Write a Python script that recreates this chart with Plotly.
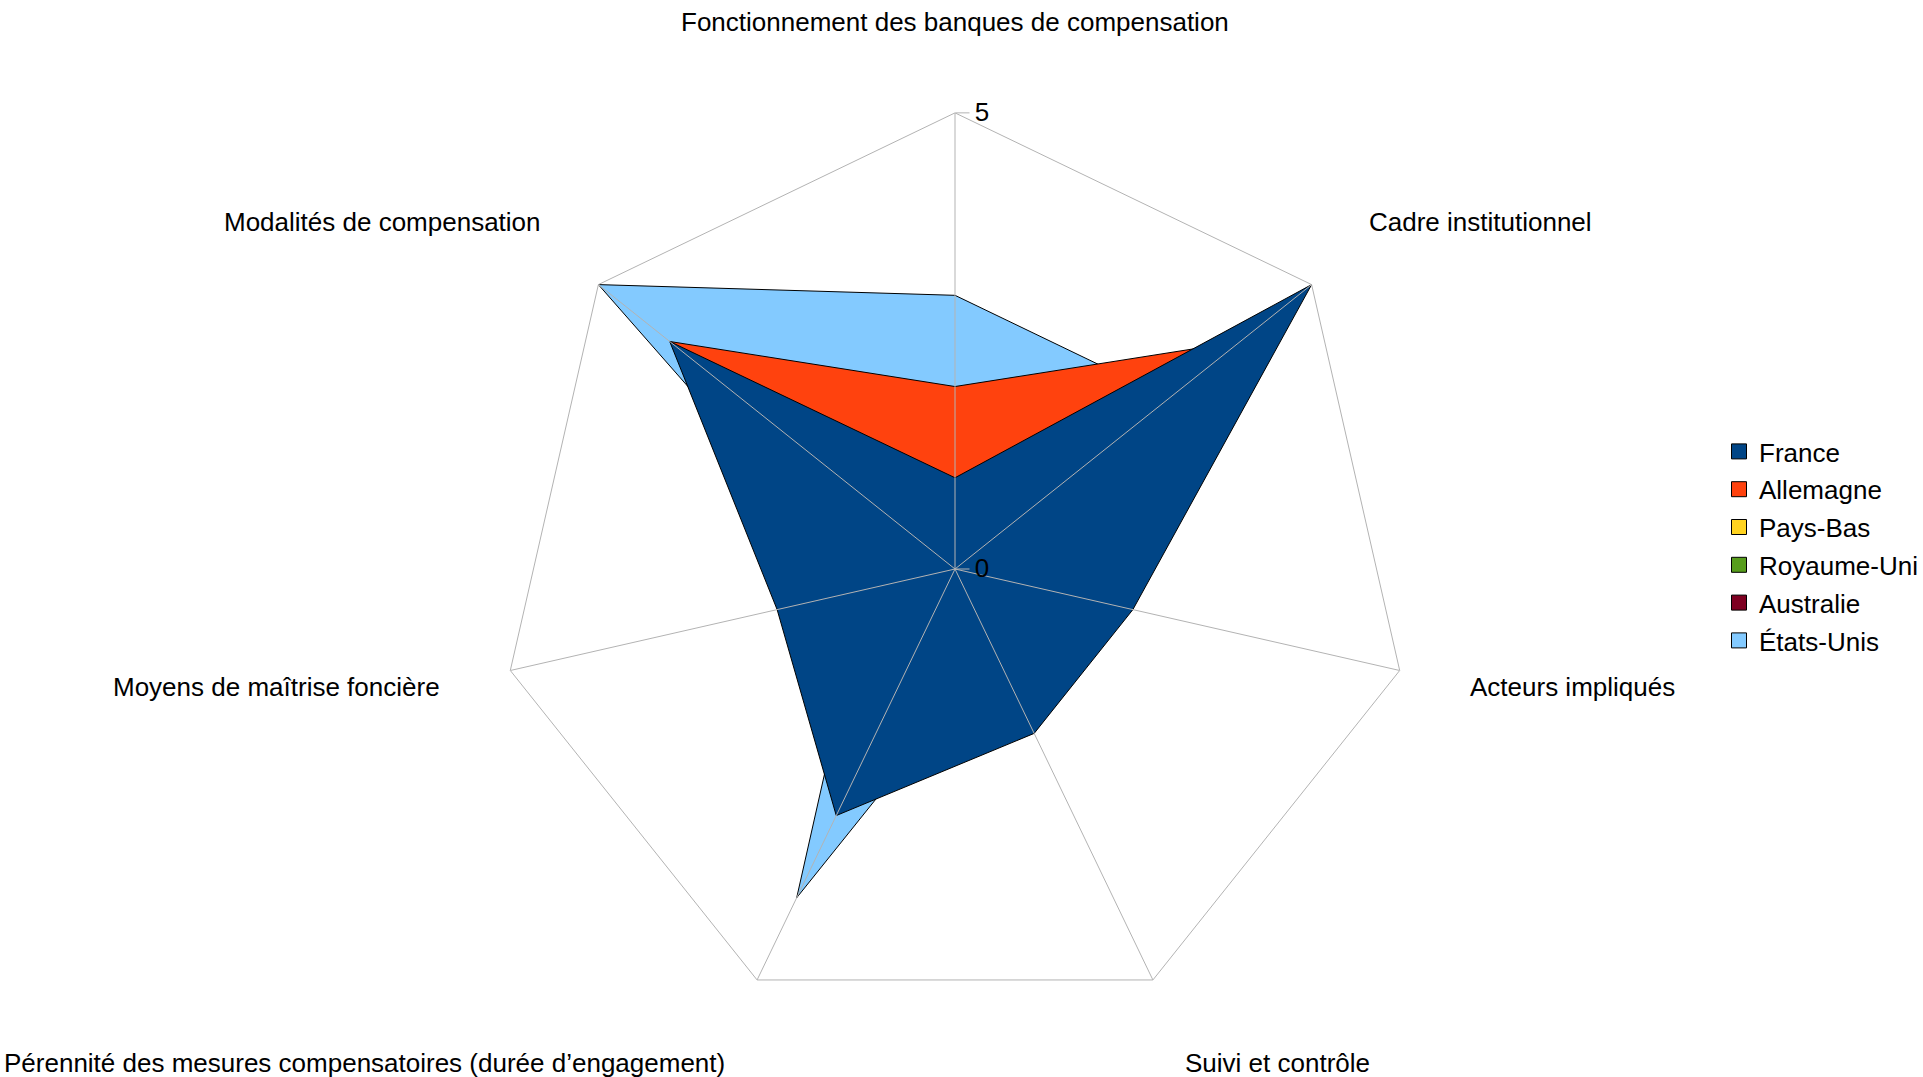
import math
import plotly.graph_objects as go

categories = [
    "Fonctionnement des banques de compensation",
    "Cadre institutionnel",
    "Acteurs impliqués",
    "Suivi et contrôle",
    "Pérennité des mesures compensatoires (durée d’engagement)",
    "Moyens de maîtrise foncière",
    "Modalités de compensation",
]
series_names = ["France", "Allemagne", "Pays-Bas", "Royaume-Uni", "Australie", "États-Unis"]
france = [1, 5, 2, 2, 3, 2, 4]
allemagne = [2, 4, 1, 1, 1, 1, 4]
pays_bas = [1, 1, 1, 1, 1, 1, 1]
royaume_uni = [1, 1, 1, 1, 1, 1, 1]
australie = [1, 1, 1, 1, 1, 1, 1]
etats_unis = [3, 3, 1, 1, 4, 1, 5]
series_values = [france, allemagne, pays_bas, royaume_uni, australie, etats_unis]
colors = ["#004586", "#ff420e", "#ffd320", "#579d1c", "#7e0021", "#83caff"]
radial_range = [0, 5]
radial_ticks = [0, 5]

FONT = "Liberation Sans, Arial, sans-serif"
GRID = "#b3b3b3"
W, H = 1923, 1077
cx, cy, R = 961, 569, 459   # net centre and radius (pixels)
LABEL_D = 531               # distance of category labels from centre (pixels)

fig = go.Figure()

# filled areas: last series drawn first so France ends up on top
for name, vals, col in reversed(list(zip(series_names, series_values, colors))):
    fig.add_trace(go.Scatterpolar(
        r=vals + [vals[0]],
        theta=categories + [categories[0]],
        mode="lines",
        fill="toself",
        fillcolor=col,
        line=dict(color="black", width=1),
        name=name,
        showlegend=False,
        hoverinfo="name+r+theta",
    ))

# spokes drawn above the areas
sr, st = [], []
for c in categories:
    sr += [radial_range[0], radial_range[1], None]
    st += [c, c, None]
fig.add_trace(go.Scatterpolar(
    r=sr, theta=st, mode="lines",
    line=dict(color=GRID, width=1),
    showlegend=False, hoverinfo="skip",
))

# legend entries with square keys
for name, col in zip(series_names, colors):
    fig.add_trace(go.Scatterpolar(
        r=[None], theta=[categories[0]], mode="markers",
        marker=dict(symbol="square", size=15, color=col, line=dict(color="black", width=1)),
        name=name, legendgroup=name, showlegend=True,
    ))

# category labels placed around the net
annotations = []
n = len(categories)
for i, c in enumerate(categories):
    a = 2 * math.pi * i / n
    s, co = math.sin(a), math.cos(a)
    px = cx + LABEL_D * s
    py = cy - LABEL_D * co
    xa = "center" if abs(s) < 1e-6 else ("left" if s > 0 else "right")
    ya = "bottom" if co > 0.5 else ("top" if co < -0.5 else "middle")
    annotations.append(dict(
        text=c, xref="paper", yref="paper",
        x=px / W, y=1 - py / H, xanchor=xa, yanchor=ya,
        showarrow=False, borderpad=0,
        font=dict(family=FONT, size=26, color="black"),
    ))

fig.update_layout(
    width=W, height=H,
    margin=dict(l=0, r=0, t=0, b=0),
    paper_bgcolor="white",
    font=dict(family=FONT, size=26, color="black"),
    annotations=annotations,
    polar=dict(
        domain=dict(x=[(cx - R) / W, (cx + R) / W],
                    y=[(H - cy - R) / H, (H - cy + R) / H]),
        bgcolor="white",
        gridshape="linear",
        angularaxis=dict(
            direction="clockwise", rotation=90,
            showline=True, linecolor=GRID, linewidth=1,
            showgrid=False, ticks="", showticklabels=False,
        ),
        radialaxis=dict(
            range=radial_range, tickvals=radial_ticks,
            ticktext=[str(v) for v in radial_ticks],
            angle=90, tickangle=90,
            showgrid=False, showline=False,
            ticks="outside", ticklen=14, tickcolor=GRID,
            tickfont=dict(family=FONT, size=26, color="black"),
        ),
    ),
    legend=dict(
        x=1730 / W, xanchor="left",
        y=1 - 546 / H, yanchor="middle",
        font=dict(family=FONT, size=26, color="black"),
        itemwidth=30,
        tracegroupgap=1,
        bgcolor="rgba(0,0,0,0)",
    ),
)

fig.write_html(
    "out.html",
    config={"displayModeBar": False},
    post_script="document.body.style.margin='0';document.body.style.overflow='hidden';",
)
